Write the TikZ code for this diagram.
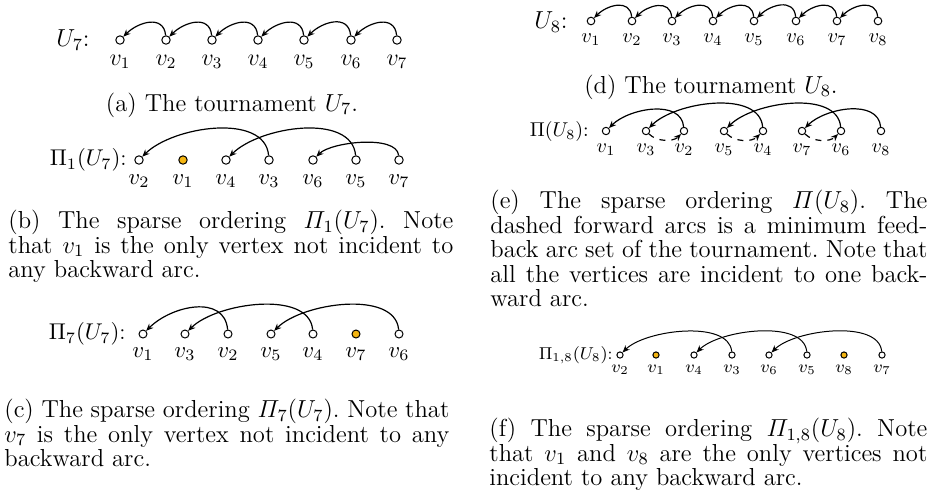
\RequirePackage{fix-cm}
\documentclass[tikz,border=0pt]{standalone}
\usepackage{amsmath}
\usepackage{fontspec}
\usetikzlibrary{arrows.meta}
\definecolor{freevtx}{RGB}{244,181,18}
\newcommand{\capfont}{\fontsize{12.3}{12.2}\selectfont}
\newcommand{\labfont}[1]{\fontsize{#1}{#1}\selectfont}
\frenchspacing

\begin{document}
\begin{tikzpicture}[x=0.5pt, y=0.5pt,
    vtx/.style={circle, draw, line width=0.5pt, inner sep=0pt, minimum size=4.2pt},
    free/.style={vtx, fill=freevtx},
    lab/.style={inner sep=0pt},
    back/.style={-{Stealth[length=3.6pt,width=3pt]}, line width=0.6pt, out=95, in=45},
    fwd/.style={back, dashed, out=-45, in=-135},
    captext/.style={anchor=north west, inner sep=0pt, align=justify, font=\capfont}]

    \useasboundingbox (0,0) rectangle (937,-494);

    % (a) the tournament U_7
    \begin{scope}[font=\labfont{12}]
        \node[lab, font=\capfont] (ua) at (73,-40) {$U_7$:};
        \foreach \i/\x in {1/120,2/166,3/212,4/258,5/304,6/351,7/397} {
            \node[vtx] (a\i) at (\x,-40) {};
            \node[lab] (la\i) at (\x,-62) {$v_{\i}$};
        }
        \foreach \i in {1,...,6} {
            \pgfmathtruncatemacro\j{\i+1}
            \draw[back, looseness=1.27] (a\j) to (a\i);
        }
    \end{scope}
    \node[font=\capfont] (capa) at (232,-105) {(a) The tournament $U_7$.};

    % (b) sparse ordering Pi_1(U_7)
    \begin{scope}[font=\labfont{11.4}]
        \node[lab, anchor=east] (ub) at (127,-160) {$\Pi_1(U_7)$:};
        \foreach \i/\x/\v/\s in {1/139/2/vtx,2/183/1/free,3/226/4/vtx,4/269/3/vtx,
                                 5/313/6/vtx,6/356/5/vtx,7/399/7/vtx} {
            \node[\s] (b\i) at (\x,-160) {};
            \node[lab] (lb\i) at (\x,-181) {$v_{\v}$};
        }
        \foreach \s/\t/\l in {b4/b1/0.87, b6/b3/0.87, b7/b5/0.65}
            \draw[back, looseness=\l] (\s) to (\t);
    \end{scope}
    \node[captext, text width=222.5pt] (capb) at (8,-210)
        {(b) The sparse ordering $\varPi_1(U_7)$. Note\linebreak
         that $v_1$ is the only vertex not incident to\linebreak
         any backward arc.};

    % (c) sparse ordering Pi_7(U_7)
    \begin{scope}[font=\labfont{11.4}, vtx/.append style={minimum size=4pt}]
        \node[lab, anchor=east] (uc) at (126,-334) {$\Pi_7(U_7)$:};
        \foreach \i/\x/\v/\s in {1/143/1/vtx,2/185/3/vtx,3/228/2/vtx,4/271/5/vtx,
                                 5/313/4/vtx,6/356/7/free,7/399/6/vtx} {
            \node[\s] (c\i) at (\x,-334) {};
            \node[lab] (lc\i) at (\x,-354) {$v_{\v}$};
        }
        \foreach \s/\t/\l in {c3/c1/1.12, c5/c2/0.82, c7/c4/0.82}
            \draw[back, looseness=\l] (\s) to (\t);
    \end{scope}
    \node[captext, text width=222.5pt] (capc) at (4,-399)
        {(c) The sparse ordering $\varPi_7(U_7)$. Note that\linebreak
         $v_7$ is the only vertex not incident to any\linebreak
         backward arc.};

    % (d) the tournament U_8
    \begin{scope}[font=\labfont{10.2}, vtx/.append style={minimum size=3.8pt}]
        \node[lab, font=\capfont] (ud) at (551,-22) {$U_8$:};
        \foreach \i/\x in {1/591,2/632,3/672,4/713,5/754,6/796,7/837,8/878} {
            \node[vtx] (d\i) at (\x,-21) {};
            \node[lab] (ld\i) at (\x,-40) {$v_{\i}$};
        }
        \foreach \i in {1,...,7} {
            \pgfmathtruncatemacro\j{\i+1}
            \draw[back, looseness=1.25] (d\j) to (d\i);
        }
    \end{scope}
    \node[font=\capfont] (capd) at (711,-87) {(d) The tournament $U_8$.};

    % (e) sparse ordering Pi(U_8), dashed arcs = feedback arc set
    \begin{scope}[font=\labfont{10}, vtx/.append style={minimum size=3.7pt}]
        \node[lab, anchor=east] (ue) at (589,-131) {$\Pi(U_8)$:};
        \foreach \i/\x/\v in {1/606/1,2/646/3,3/684/2,4/724/5,5/763/4,6/802/7,7/841/6,8/881/8} {
            \node[vtx] (e\i) at (\x,-131) {};
            \node[lab] (le\i) at (\x,-150) {$v_{\v}$};
        }
        \foreach \s/\t/\l in {e3/e1/0.96, e5/e2/0.84, e7/e4/0.84, e8/e6/0.96}
            \draw[back, looseness=\l] (\s) to (\t);
        \foreach \s/\t in {e2/e3, e4/e5, e6/e7}
            \draw[fwd, looseness=0.9] (\s) to (\t);
    \end{scope}
    \node[captext, text width=218.5pt] (cape) at (490,-190)
        {(e) The sparse ordering $\varPi(U_8)$. The\linebreak
         dashed forward arcs is a minimum feed-\linebreak
         back arc set of the tournament. Note that\linebreak
         all the vertices are incident to one back-\linebreak
         ward arc.};

    % (f) sparse ordering Pi_{1,8}(U_8)
    \begin{scope}[font=\labfont{8.6}, vtx/.append style={minimum size=3.1pt}]
        \node[lab, anchor=east] (uf) at (613,-355) {$\Pi_{1,8}(U_8)$:};
        \foreach \i/\x/\v/\s in {1/620/2/vtx,2/656/1/free,3/694/4/vtx,4/732/3/vtx,
                                 5/769/6/vtx,6/807/5/vtx,7/844/8/free,8/882/7/vtx} {
            \node[\s] (f\i) at (\x,-355) {};
            \node[lab] (lf\i) at (\x,-370) {$v_{\v}$};
        }
        \foreach \s/\t in {f4/f1, f6/f3, f8/f5}
            \draw[back, line width=0.5pt, looseness=0.75] (\s) to (\t);
    \end{scope}
    \node[captext, text width=219pt] (capf) at (489,-418)
        {(f) The sparse ordering $\varPi_{1,8}(U_8)$. Note\linebreak
         that $v_1$ and $v_8$ are the only vertices not\linebreak
         incident to any backward arc.};
\end{tikzpicture}
\end{document}
